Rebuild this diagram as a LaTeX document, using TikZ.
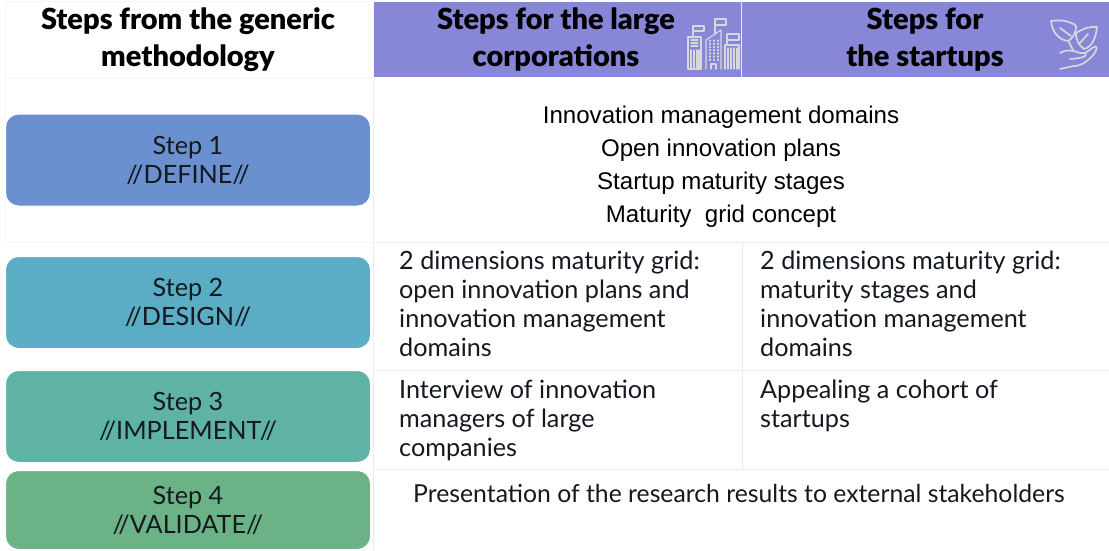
\documentclass[tikz,border=0pt]{standalone}
\usepackage{fontspec}
\setmainfont{Lato}
\newfontfamily\arialf{Liberation Sans}
\newfontfamily\headf{Lato Black}
\definecolor{hdr}{HTML}{8886D6}
\definecolor{sa}{HTML}{6B90D0}
\definecolor{sb}{HTML}{5AADC4}
\definecolor{sc}{HTML}{5FB3A5}
\definecolor{sd}{HTML}{6BB386}
\definecolor{grid}{HTML}{ECECF0}
\definecolor{gridfaint}{HTML}{F6F6F8}
\definecolor{ink}{HTML}{14181F}
\definecolor{icon}{HTML}{D5D8DC}
\tikzset{
  x=1pt,y=-1pt,
  stepbox/.style={draw=white,line width=1pt,rounded corners=13pt,text=ink,align=center,minimum width=365pt,font=\fontsize{25.2}{29}\selectfont,inner sep=0pt},
  headtxt/.style={font=\headf\fontsize{29}{37}\selectfont,align=center,text=black,inner sep=0pt},
  bodytxt/.style={font=\fontsize{25.2}{29}\selectfont,align=left,anchor=north west,text=ink,inner sep=0pt},
  arialtxt/.style={font=\arialf\fontsize{24.1}{33}\selectfont,align=center,text=black,inner sep=0pt},
  gridline/.style={draw=grid,line width=1pt},
  iconline/.style={draw=icon,line width=1.2pt,line join=round,line cap=round}
}
\begin{document}
\begin{tikzpicture}
\useasboundingbox (0,0) rectangle (1109,551);
\fill[white] (0,0) rectangle (1109,551);
% header band
\node[fill=hdr,minimum width=367pt,minimum height=75pt,inner sep=0pt,anchor=north west] (hl) at (374,2) {};
\node[fill=hdr,minimum width=367pt,minimum height=75pt,inner sep=0pt,anchor=north west] (hr) at (742,2) {};
\draw[draw=white!80!hdr,line width=1pt] (hl.north east) -- (hl.south east);
% grid
\coordinate (v1t) at (373,0); \coordinate (v1b) at (373,551);
\coordinate (v2t) at (742,242); \coordinate (v2b) at (742,469);
\coordinate (h1l) at (5,242); \coordinate (h1r) at (1109,242);
\coordinate (h2l) at (373,370); \coordinate (h2r) at (1109,370);
\coordinate (h3l) at (373,469); \coordinate (h3r) at (1109,469);
\draw[gridline,draw=gridfaint] (5,2) -- (373,2);
\draw[gridline,draw=gridfaint] (5,79) -- (373,79);
\draw[gridline,draw=gridfaint] (v1t) -- (v1b);
\draw[gridline] (373,80) -- (v1b);
\draw[gridline] (v2t) -- (v2b);
\draw[gridline,draw=gridfaint] (h1l) -- (h1r);
\draw[gridline] (373,242) -- (h1r);
\draw[gridline] (h2l) -- (h2r);
\draw[gridline] (h3l) -- (h3r);
\draw[gridline,draw=gridfaint] (5,2) -- (5,242);
% header text
\node[headtxt] (t0) at (188,40) {Steps from the generic\\methodology};
\node[headtxt] (t1) at (556,40) {Steps for the large\\corporations};
\node[headtxt] (t2) at (925,40) {Steps for\\the startups};
% step boxes
\node[stepbox,fill=sa,minimum height=92pt] (s1) at (188,160) {Step 1\\//DEFINE//};
\node[stepbox,fill=sb,minimum height=92pt] (s2) at (188,302.5) {Step 2\\//DESIGN//};
\node[stepbox,fill=sc,minimum height=92pt] (s3) at (188,416.5) {Step 3\\//IMPLEMENT//};
\node[stepbox,fill=sd,minimum height=79pt] (s4) at (188,510) {Step 4\\//VALIDATE//};
% step 1 text
\node[arialtxt] (d1) at (721,117.5) {Innovation management domains};
\node[arialtxt] (d2) at (721,150) {Open innovation plans};
\node[arialtxt] (d3) at (721,183) {Startup maturity stages};
\node[arialtxt] (d4) at (721,216.5) {Maturity\ \ grid concept};
% body
\node[bodytxt] (b1) at (399,251) {2 dimensions maturity grid:\\open innovation plans and\\innovation management\\domains};
\node[bodytxt] (b2) at (760,251) {2 dimensions maturity grid:\\maturity stages and\\innovation management\\domains};
\node[bodytxt] (b3) at (399,380) {Interview of innovation\\managers of large\\companies};
\node[bodytxt] (b4) at (760,380) {Appealing a cohort of\\startups};
\node[font=\fontsize{24.75}{29}\selectfont,text=ink,inner sep=0pt] (b5) at (739,493) {Presentation of the research results to external stakeholders};
% city icon
\begin{scope}[iconline]
 \draw (688,69) -- (688,37) -- (701,37) -- (701,69) -- cycle;
 \foreach \x in {691,694,697,699} \draw (\x,50) -- (\x,69);
 \draw (691,40) -- (698,40) (691,43) -- (698,43) (691,46) -- (698,46);
 \draw (706,69) -- (706,40) -- (721,30) -- (721,69);
 \foreach \x in {710,714,718} \draw[dotted] (\x,40) -- (\x,62);
 \draw (711,69) -- (711,64) -- (716,64) -- (716,69);
 \draw (693,37) -- (693,26) -- (704,26) -- (704,31) -- (693,31);
 \draw (715,33) -- (715,19) -- (726,19) -- (726,25) -- (715,25);
 \draw (725,69) -- (725,45) -- (739,45) -- (739,69);
 \foreach \x in {728,731,734,737} \draw (\x,48) -- (\x,69);
 \draw (727,45) -- (727,34) -- (739,34) -- (739,40) -- (727,40);
\end{scope}
% plant icon
\begin{scope}[iconline,line width=1.7pt]
 \draw (1051,21) .. controls (1062,19) and (1072,22) .. (1076,26) .. controls (1076,34) and (1072,39) .. (1068,41) .. controls (1059,40) and (1052,32) .. (1051,21) -- cycle;
 \draw (1097,27) .. controls (1090,26) and (1082,29) .. (1076,33) .. controls (1076,41) and (1079,45) .. (1084,49) .. controls (1092,47) and (1096,38) .. (1097,27) -- cycle;
 \draw (1060,28) -- (1071,36) (1088,34) -- (1079,44);
 \draw (1069,42) -- (1073,50);
 \draw (1060,53) .. controls (1066,49) and (1072,50) .. (1080,53) -- (1085,53) .. controls (1088,56) and (1084,58) .. (1070,59);
 \draw (1085,53) -- (1094,47) .. controls (1098,45) and (1097,50) .. (1094,54) .. controls (1089,60) and (1082,66) .. (1074,66) -- (1060,69);
\end{scope}
\end{tikzpicture}
\end{document}
